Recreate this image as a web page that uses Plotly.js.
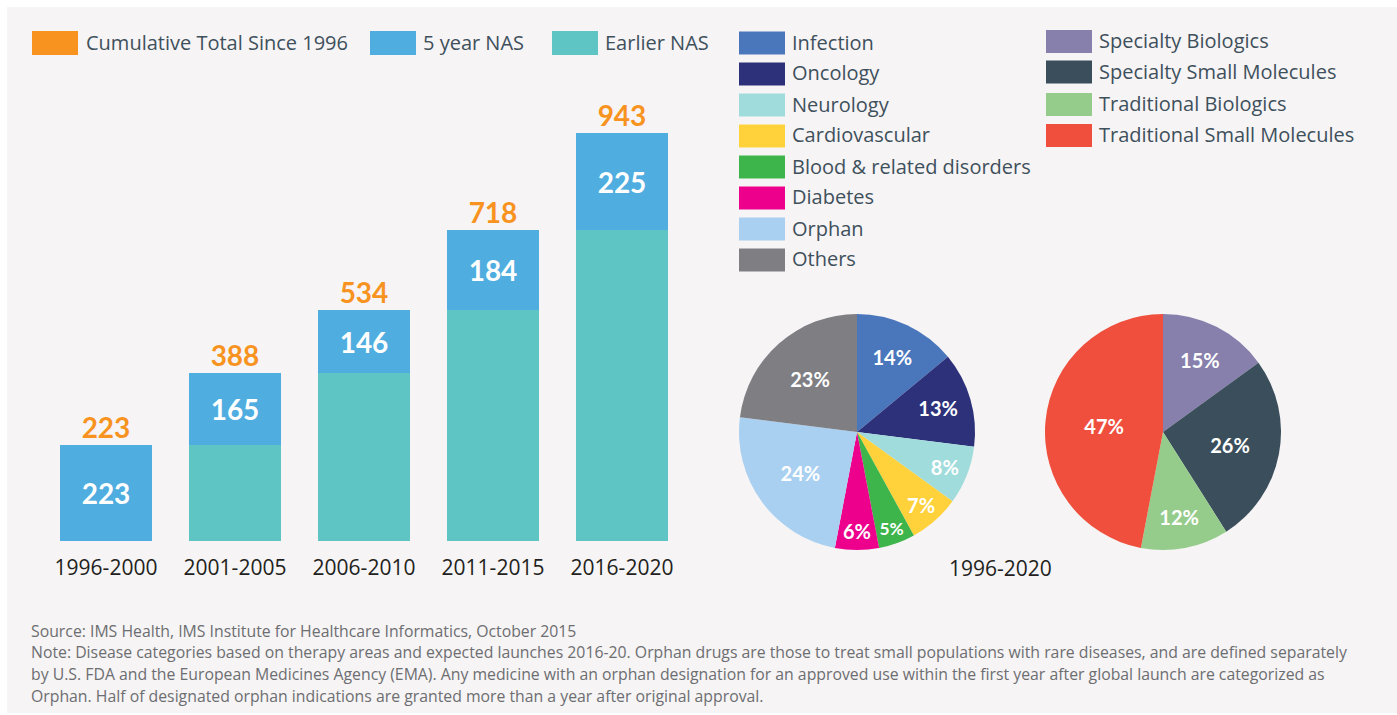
<!DOCTYPE html>
<html>
<head>
<meta charset="utf-8">
<script src="https://cdn.plot.ly/plotly-3.0.1.min.js"></script>
<style>
html,body{margin:0;padding:0;background:#ffffff;}
#chart{width:1397px;height:715px;}
</style>
</head>
<body>
<div id="chart"></div>
<script>
// ---- data ----
const periods = ["1996-2000", "2001-2005", "2006-2010", "2011-2015", "2016-2020"];
const earlierNAS = [0, 223, 388, 534, 718];
const fiveYearNAS = [223, 165, 146, 184, 225];
const cumulativeTotal = [223, 388, 534, 718, 943];
const barSeriesNames = ["Cumulative Total Since 1996", "5 year NAS", "Earlier NAS"];

const diseaseLabels = ["Infection", "Oncology", "Neurology", "Cardiovascular", "Blood & related disorders", "Diabetes", "Orphan", "Others"];
const diseaseShares = [14, 13, 8, 7, 5, 6, 24, 23];

const typeLabels = ["Specialty Biologics", "Specialty Small Molecules", "Traditional Biologics", "Traditional Small Molecules"];
const typeShares = [15, 26, 12, 47];

const pieCaption = "1996-2020";
const sourceText = "Source: IMS Health, IMS Institute for Healthcare Informatics, October 2015";
const noteLines = [
  "Note: Disease categories based on therapy areas and expected launches 2016-20. Orphan drugs are those to treat small populations with rare diseases, and are defined separately",
  "by U.S. FDA and the European Medicines Agency (EMA). Any medicine with an orphan designation for an approved use within the first year after global launch are categorized as",
  "Orphan. Half of designated orphan indications are granted more than a year after original approval."
];

// ---- styles ----
const W = 1397, H = 715;
const FONT = "'Open Sans', Lato, sans-serif";
const BOLDFONT = "Lato, 'Open Sans', sans-serif";
const barColors = ["#F7931E", "#4FADE0", "#5EC4C4"];
const diseaseColors = ["#4A77BC", "#2C317A", "#A1DCDC", "#FFD13A", "#3DB54A", "#EC008C", "#A9D0F0", "#7E7E83"];
const typeColors = ["#8780AD", "#3A4E5B", "#95CC8C", "#EF4F3C"];
const legendTextColor = "#3E505C";

const px = x => x / W;
const py = y => 1 - y / H;

const traces = [
  {
    type: "bar", x: periods, y: earlierNAS, name: barSeriesNames[2],
    marker: {color: barColors[2]}, hoverinfo: "x+y+name", showlegend: false
  },
  {
    type: "bar", x: periods, y: fiveYearNAS, name: barSeriesNames[1],
    marker: {color: barColors[1]},
    text: fiveYearNAS.map(String), textposition: "inside", insidetextanchor: "middle",
    textfont: {family: BOLDFONT, size: 28, color: "#ffffff", weight: "bold"},
    textangle: 0, showlegend: false
  },
  {
    type: "scatter", mode: "text", x: periods, y: cumulativeTotal, name: barSeriesNames[0],
    text: cumulativeTotal.map(String), textposition: "top center",
    textfont: {family: BOLDFONT, size: 28, color: barColors[0], weight: "bold"},
    cliponaxis: false, showlegend: false
  },
  {
    type: "pie", labels: diseaseLabels, values: diseaseShares, sort: false,
    direction: "clockwise", rotation: 0,
    marker: {colors: diseaseColors, line: {width: 0}},
    textinfo: "percent", texttemplate: "%{value}%", textposition: "inside",
    insidetextorientation: "horizontal",
    textfont: {family: BOLDFONT, size: 20, color: "#ffffff", weight: "bold"},
    domain: {x: [px(739), px(975)], y: [py(550), py(314)]},
    showlegend: false, hole: 0
  },
  {
    type: "pie", labels: typeLabels, values: typeShares, sort: false,
    direction: "clockwise", rotation: 0,
    marker: {colors: typeColors, line: {width: 0}},
    textinfo: "percent", texttemplate: "%{value}%", textposition: "inside",
    insidetextorientation: "horizontal",
    textfont: {family: BOLDFONT, size: 20, color: "#ffffff", weight: "bold"},
    domain: {x: [px(1045), px(1281)], y: [py(550), py(314)]},
    showlegend: false
  }
];

const shapes = [
  {type: "rect", xref: "paper", yref: "paper", x0: px(7), x1: 1, y0: py(713), y1: py(7),
   fillcolor: "#F6F4F5", line: {width: 0}, layer: "below"}
];
const annotations = [];

// top-left legend
const topLegend = [
  {x: 32, textX: 84, name: barSeriesNames[0], color: barColors[0]},
  {x: 370, textX: 421, name: barSeriesNames[1], color: barColors[1]},
  {x: 552, textX: 603, name: barSeriesNames[2], color: barColors[2]}
];
topLegend.forEach(it => {
  shapes.push({type: "rect", xref: "paper", yref: "paper", x0: px(it.x), x1: px(it.x + 46),
    y0: py(55), y1: py(31), fillcolor: it.color, line: {width: 0}});
  annotations.push({xref: "paper", yref: "paper", x: px(it.textX), y: py(42), xanchor: "left", yanchor: "middle",
    text: it.name, showarrow: false, font: {family: FONT, size: 20, color: legendTextColor}});
});

// disease legend
diseaseLabels.forEach((lab, i) => {
  const cy = 43 + i * 31;
  shapes.push({type: "rect", xref: "paper", yref: "paper", x0: px(739), x1: px(785),
    y0: py(cy + 11.5), y1: py(cy - 11.5), fillcolor: diseaseColors[i], line: {width: 0}});
  annotations.push({xref: "paper", yref: "paper", x: px(790), y: py(cy - 1), xanchor: "left", yanchor: "middle",
    text: lab.replace("&", "&amp;"), showarrow: false, font: {family: FONT, size: 20, color: legendTextColor}});
});
// type legend
typeLabels.forEach((lab, i) => {
  const cy = [41.5, 72, 104.5, 135.5][i];
  shapes.push({type: "rect", xref: "paper", yref: "paper", x0: px(1046), x1: px(1092),
    y0: py(cy + 11.5), y1: py(cy - 11.5), fillcolor: typeColors[i], line: {width: 0}});
  annotations.push({xref: "paper", yref: "paper", x: px(1097), y: py(cy - 1), xanchor: "left", yanchor: "middle",
    text: lab, showarrow: false, font: {family: FONT, size: 20, color: legendTextColor}});
});

// pie caption
annotations.push({xref: "paper", yref: "paper", x: px(1000), y: py(568), xanchor: "center", yanchor: "middle",
  text: pieCaption, showarrow: false, font: {family: FONT, size: 21, color: "#231F20"}});

// footnotes
annotations.push({xref: "paper", yref: "paper", x: px(29), y: py(631), xanchor: "left", yanchor: "middle",
  text: sourceText, showarrow: false, font: {family: FONT, size: 15.8, color: "#6D6E71"}});
noteLines.forEach((ln, i) => {
  annotations.push({xref: "paper", yref: "paper", x: px(29), y: py(652 + i * 22), xanchor: "left", yanchor: "middle",
    text: ln, showarrow: false, font: {family: FONT, size: 15.8, color: "#6D6E71"}});
});

const layout = {
  width: W, height: H,
  margin: {l: 0, r: 0, t: 0, b: 0, pad: 0},
  paper_bgcolor: "#ffffff", plot_bgcolor: "rgba(0,0,0,0)",
  barmode: "stack", bargap: 0.28,
  font: {family: FONT},
  xaxis: {
    domain: [px(41.5), px(686.5)], type: "category",
    showgrid: false, zeroline: false, showline: false, ticks: "",
    tickfont: {family: FONT, size: 21, color: "#231F20"}, ticklabelstandoff: 12
  },
  yaxis: {
    domain: [py(541), py(86.7)], range: [0, 1050],
    showgrid: false, zeroline: false, showline: false, showticklabels: false, ticks: ""
  },
  showlegend: false,
  shapes: shapes, annotations: annotations
};

Plotly.newPlot("chart", traces, layout, {displayModeBar: false});
</script>
</body>
</html>
